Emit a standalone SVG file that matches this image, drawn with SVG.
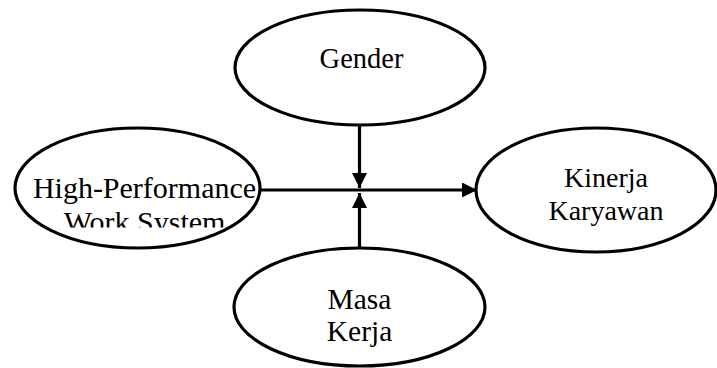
<svg xmlns="http://www.w3.org/2000/svg" width="717" height="368" viewBox="0 0 717 368">
<style>
.node{fill:#fff;stroke:#000;stroke-width:3.2}
.lbl{font-family:"Liberation Serif","Times New Roman",serif;font-size:28px;fill:#000;text-anchor:middle}
.conn{stroke:#000;stroke-width:3.2;fill:none}
</style>
<defs>
<marker id="ah" viewBox="0 0 15 15" refX="15" refY="7.5" markerWidth="15" markerHeight="15" markerUnits="userSpaceOnUse" orient="auto">
<path d="M0,0 L15,7.5 L0,15 Z" fill="#000"/>
</marker>
<clipPath id="clipH"><rect x="0" y="120" width="280" height="107.5"/></clipPath>
<clipPath id="clipM"><rect x="220" y="240" width="280" height="107"/></clipPath>
</defs>
<g id="connectors">
<line class="conn" x1="260" y1="190" x2="477" y2="190" marker-end="url(#ah)"/>
<line class="conn" x1="359.5" y1="125" x2="359.5" y2="188" marker-end="url(#ah)"/>
<line class="conn" x1="359.5" y1="248" x2="359.5" y2="193" marker-end="url(#ah)"/>
</g>
<g id="gender">
<ellipse class="node" cx="360" cy="67.5" rx="125" ry="57.5"/>
<text class="lbl" x="361.5" y="68" style="font-size:28.5px">Gender</text>
</g>
<g id="hpws">
<ellipse class="node" cx="137.5" cy="188" rx="122.5" ry="60"/>
<g clip-path="url(#clipH)">
<text class="lbl" x="144.5" y="198" style="font-size:30px">High-Performance</text>
<text class="lbl" x="144.5" y="232" style="font-size:30px">Work System</text>
</g>
</g>
<g id="kinerja">
<ellipse class="node" cx="596" cy="190" rx="120" ry="62"/>
<text class="lbl" x="606" y="187">Kinerja</text>
<text class="lbl" x="606" y="220">Karyawan</text>
</g>
<g id="masa">
<ellipse class="node" cx="359.5" cy="307" rx="125.5" ry="59"/>
<g clip-path="url(#clipM)">
<text class="lbl" x="359.5" y="309" style="font-size:29.5px">Masa</text>
<text class="lbl" x="359.5" y="341" style="font-size:29.5px">Kerja</text>
</g>
</g>
</svg>
